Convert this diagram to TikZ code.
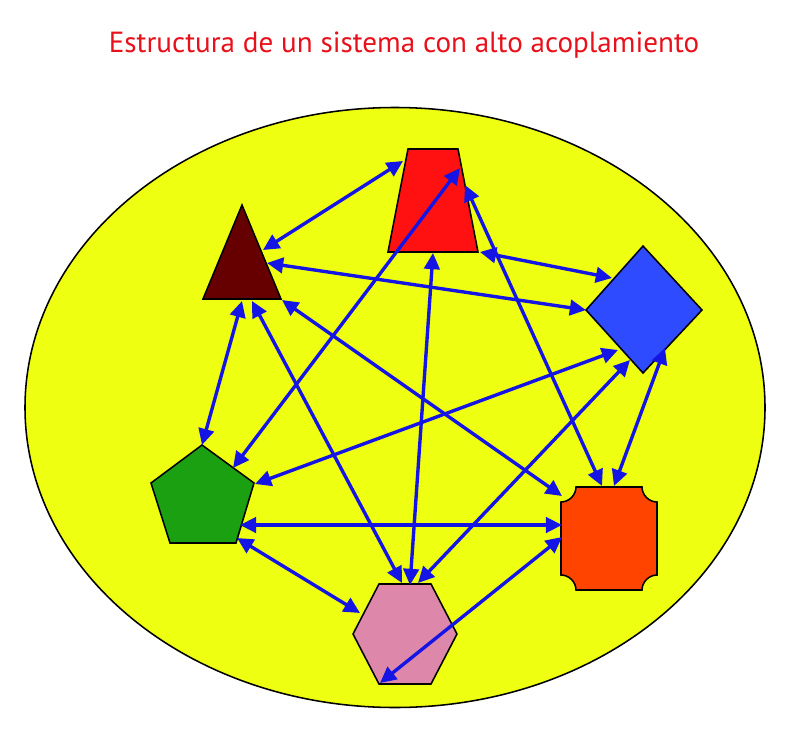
\documentclass[tikz,border=0pt]{standalone}
\usepackage{fontspec}
\setmainfont{PT Sans}
\usetikzlibrary{arrows.meta}

\definecolor{fondo}{RGB}{238,255,17}
\definecolor{flecha}{RGB}{20,20,228}
\definecolor{titulo}{RGB}{232,16,26}
\definecolor{triangulo}{RGB}{102,0,0}
\definecolor{trapecio}{RGB}{255,17,17}
\definecolor{rombo}{RGB}{46,75,255}
\definecolor{pentagono}{RGB}{26,160,16}
\definecolor{placa}{RGB}{255,68,0}
\definecolor{hexagono}{RGB}{221,136,170}

\tikzset{
  figura/.style={draw=black, line width=1.1pt, line join=miter},
  link/.style={draw=flecha, line width=2.4pt,
    {Triangle[length=11.5pt,width=11pt]}-{Triangle[length=11.5pt,width=11pt]}},
}

\begin{document}
\begin{tikzpicture}[x=0.025cm, y=-0.025cm]
    \useasboundingbox (0,0) rectangle (790,737);

    \node[text=titulo, font=\fontsize{20.7}{24}\selectfont] (titulo) at (404,45)
        {Estructura de un sistema con alto acoplamiento};

    \draw[figura, fill=fondo] (395,407.5) ellipse [x radius=370, y radius=300];

    % figuras
    \draw[figura, fill=triangulo] (242,205) -- (281,299) -- (203,299) -- cycle;
    \draw[figura, fill=trapecio] (408,149) -- (458,149) -- (478,252) -- (388,252) -- cycle;
    \draw[figura, fill=rombo] (643,246) -- (702,310) -- (643,373) -- (586,310) -- cycle;
    \draw[figura, fill=pentagono] (202,445) -- (254,483) -- (236,543) -- (170,543) -- (151,483) -- cycle;
    \draw[figura, fill=placa] (576,487) -- (642,487)
        .. controls (642,495) and (649,502) .. (657,502) -- (657,575)
        .. controls (649,575) and (642,582) .. (642,590) -- (576,590)
        .. controls (576,582) and (569,575) .. (561,575) -- (561,502)
        .. controls (569,502) and (576,495) .. (576,487) -- cycle;
    \draw[figura, fill=hexagono] (353,634) -- (379,584) -- (431,584) -- (457,634) -- (431,684) -- (379,684) -- cycle;

    % extremos de las flechas
    \foreach \n/\x/\y in {tri-trap/263/250, trap-tri/403/161,
                          tri-dia/267/263, dia-tri/586/310,
                          tri-pen/242/301, pen-tri/202/445,
                          tri-hex/252/301, hex-tri/402/583,
                          tri-ora/282/300, ora-tri/562/496,
                          trap-pen/460/168, pen-trap/233/468,
                          trap-hex/433/253, hex-trap/410/585,
                          trap-ora/465/185, ora-trap/602/486,
                          trap-dia/480/252, dia-trap/612/278,
                          dia-pen/618/350, pen-dia/255/484,
                          dia-hex/630/360, hex-dia/418/583,
                          dia-ora/665/348, ora-dia/614/486,
                          pen-ora/240/525, ora-pen/562/525,
                          pen-hex/237/538, hex-pen/360/613,
                          hex-ora/380/683, ora-hex/562/537}
        \coordinate (\n) at (\x,\y);

    % acoplamiento: todos con todos
    \foreach \a/\b in {tri/trap, tri/dia, tri/pen, tri/hex, tri/ora,
                       trap/pen, trap/hex, trap/ora, trap/dia,
                       dia/pen, dia/hex, dia/ora,
                       pen/ora, pen/hex, hex/ora}
        \draw[link] (\a-\b) -- (\b-\a);
\end{tikzpicture}
\end{document}
